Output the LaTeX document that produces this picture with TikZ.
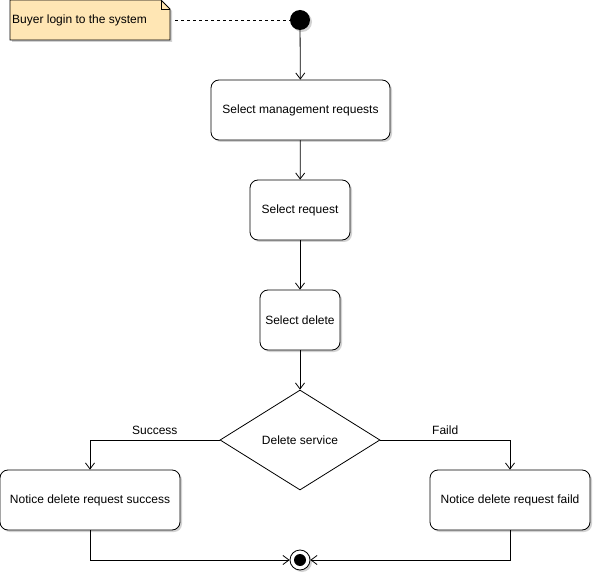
\documentclass[tikz,border=0pt]{standalone}
\usepackage{fontspec}
\setmainfont{Liberation Sans}
\usetikzlibrary{shapes.geometric,shadows,arrows.meta}
\definecolor{notefill}{RGB}{255,230,180}

\begin{document}
\begin{tikzpicture}[x=1pt,y=-1pt,>={Straight Barb[length=6pt,width=9pt]},
  font=\fontsize{12}{14}\selectfont,
  shade/.style={drop shadow={shadow xshift=2pt,shadow yshift=-2pt,fill=gray!35,opacity=1}},
  act/.style={draw, fill=white, rounded corners=8pt, shade, line width=0.8pt, inner sep=0pt, minimum height=60pt},
  flow/.style={->, line width=0.8pt}]
  \useasboundingbox (0,0) rectangle (595,575);

  % Note
  \def\fold{9}
  \fill[gray!35] (12,2) -- (172-\fold,2) -- (172,2+\fold) -- (172,42) -- (12,42) -- cycle;
  \draw[fill=notefill, line width=0.8pt] (10,0) -- (170-\fold,0) -- (170,\fold) -- (170,40) -- (10,40) -- cycle;
  \draw[line width=0.6pt] (170-\fold,0) -- (170-\fold,\fold) -- (170,\fold);
  \node[minimum width=160pt, minimum height=40pt, inner sep=0pt] (note) at (90,20) {};
  \node[anchor=west, inner sep=0pt] at (12,20) {Buyer login to the system};

  % Start and end
  \node[circle, fill=black, minimum size=20pt, inner sep=0pt, shade] (start) at (300,20) {};
  \node[circle, draw, fill=white, minimum size=20pt, inner sep=0pt, line width=0.8pt, shade] (stop) at (300,560) {};
  \fill (stop.center) circle (6pt);

  % Activities
  \node[act, minimum width=179pt] (mgmt) at (300.5,110) {Select management requests};
  \node[act, minimum width=100pt] (req) at (300,210) {Select request};
  \node[act, minimum width=80pt] (del) at (300,320) {Select delete};
  \node[draw, diamond, fill=white, aspect=1.6, minimum width=160pt, minimum height=100pt, inner sep=0pt, line width=0.8pt] (svc) at (300,440) {Delete service};
  \node[act, minimum width=180pt] (ok) at (90,500) {Notice delete request success};
  \node[act, minimum width=160pt] (fail) at (510,500) {Notice delete request faild};

  % Flows
  \draw[dashed, line width=0.8pt] (note.east) ++(5,0) -- (start.west);
  \draw[flow] (start) -- (mgmt);
  \draw[flow] (mgmt) -- (req);
  \draw[flow] (req) -- (del);
  \draw[flow] (del) -- (svc);
  \draw[flow] (svc.west) -| node[pos=0.25, above=2pt] {Success} (ok.north);
  \draw[flow] (svc.east) -| node[pos=0.25, above=2pt] {Faild} (fail.north);
  \draw[flow] (ok.south) |- (stop.west);
  \draw[flow] (fail.south) |- (stop.east);
\end{tikzpicture}
\end{document}
